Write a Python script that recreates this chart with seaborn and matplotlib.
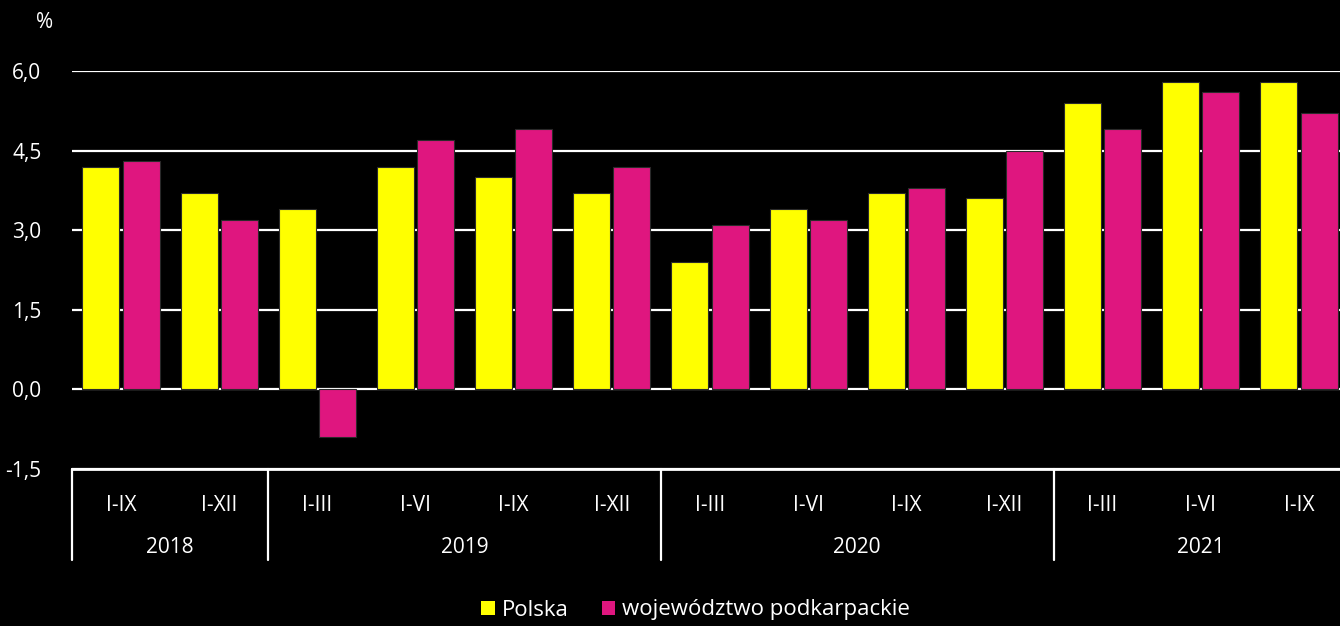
import pandas as pd
import matplotlib.pyplot as plt
import matplotlib.transforms as mtransforms
from matplotlib.patches import Patch
import seaborn as sns

# dane
lata = ["2018", "2019", "2020", "2021"]
okresy_w_roku = [["I-IX", "I-XII"],
                 ["I-III", "I-VI", "I-IX", "I-XII"],
                 ["I-III", "I-VI", "I-IX", "I-XII"],
                 ["I-III", "I-VI", "I-IX"]]
polska = [4.2, 3.7, 3.4, 4.2, 4.0, 3.7, 2.4, 3.4, 3.7, 3.6, 5.4, 5.8, 5.8]
podkarpackie = [4.3, 3.2, -0.9, 4.7, 4.9, 4.2, 3.1, 3.2, 3.8, 4.5, 4.9, 5.6, 5.2]
serie = ["Polska", "województwo podkarpackie"]
kolory = {"Polska": "#FFFF00", "województwo podkarpackie": "#DF167F"}
y_ticks = [-1.5, 0.0, 1.5, 3.0, 4.5, 6.0]

okresy = [p for grp in okresy_w_roku for p in grp]
klucze = [f"{rok} {p}" for rok, grp in zip(lata, okresy_w_roku) for p in grp]

df = pd.DataFrame({
    "okres": klucze * 2,
    "seria": [serie[0]] * len(klucze) + [serie[1]] * len(klucze),
    "wartosc": polska + podkarpackie,
})

sns.set_style("dark")
plt.rcParams["font.family"] = ["Open Sans", "DejaVu Sans"]
FS = 15

fig = plt.figure(figsize=(13.4, 6.26), dpi=100, facecolor="black")
W, H = 1340, 626
ax = fig.add_axes([72 / W, 1 - 469 / H, (1348 - 72) / W, (469 - 71) / H])
ax.set_facecolor("black")

sns.barplot(data=df, x="okres", y="wartosc", hue="seria", order=klucze,
            hue_order=serie, palette=kolory, width=0.82, gap=0.08,
            saturation=1, legend=False, edgecolor="#2a2a2a", linewidth=0.8,
            ax=ax)

ax.set_ylim(-1.5, 6.0)
ax.set_xlim(-0.5, len(klucze) - 0.5)
ax.set_yticks(y_ticks)
ax.set_yticklabels([f"{v:.1f}".replace(".", ",") for v in y_ticks],
                   color="white", fontsize=FS)
ax.set_xticks(range(len(klucze)))
ax.set_xticklabels(okresy, color="white", fontsize=FS)
ax.tick_params(axis="x", length=0, pad=19)
ax.tick_params(axis="y", length=0, pad=22)
ax.set_xlabel("")
ax.set_ylabel("")

ax.grid(axis="y", color="white", linewidth=1.6)
ax.grid(axis="x", visible=False)
ax.set_axisbelow(True)
for s in ["top", "right", "left"]:
    ax.spines[s].set_visible(False)
ax.spines["bottom"].set_color("white")
ax.spines["bottom"].set_linewidth(2)

# separatory lat i etykiety lat
trans = mtransforms.blended_transform_factory(ax.transData, ax.transAxes)
start = 0
granice = [-0.5]
for rok, grp in zip(lata, okresy_w_roku):
    srodek = start + (len(grp) - 1) / 2
    ax.text(srodek, -0.196, rok, transform=trans, ha="center", va="center",
            color="white", fontsize=FS)
    start += len(grp)
    granice.append(start - 0.5)
for g in granice[:-1]:
    ax.plot([g, g], [0, -0.229], transform=trans, color="white",
            linewidth=1.6, clip_on=False)

fig.text(45 / W, 1 - 22 / H, "%", ha="center", va="center",
         color="white", fontsize=FS)

uchwyty = [Patch(facecolor=kolory[s], edgecolor="none") for s in serie]
leg = fig.legend(uchwyty, serie, loc="center", bbox_to_anchor=(0.519, 1 - 610 / H),
                 ncol=2, frameon=False, fontsize=16, handlelength=0.6,
                 handleheight=0.6, handletextpad=0.3, columnspacing=1.5)
for t in leg.get_texts():
    t.set_color("white")

fig.savefig("out.png", dpi=100, facecolor="black")
